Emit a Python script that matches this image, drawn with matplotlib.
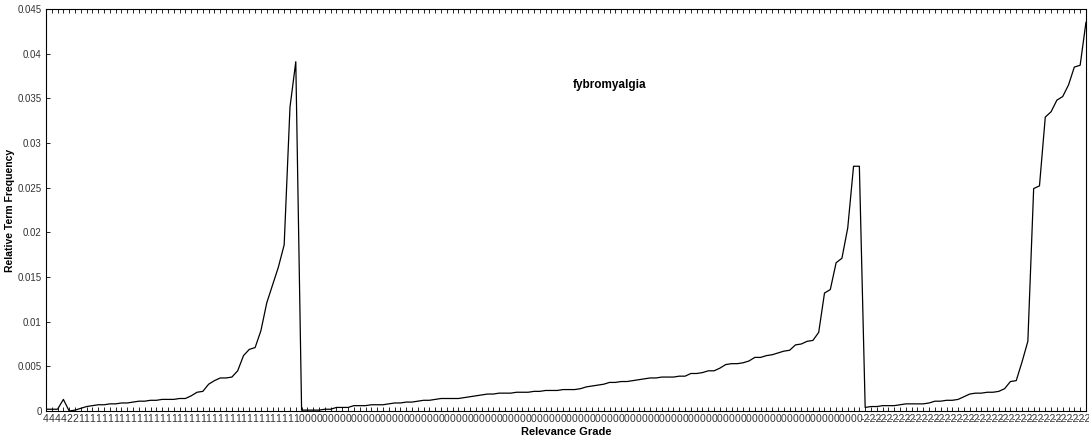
# Relative term frequency of "fybromyalgia" per document, ordered by relevance grade
import numpy as np
import matplotlib.pyplot as plt

plt.rcParams['font.family'] = ['Liberation Sans', 'DejaVu Sans']

# relevance grade of each document (x tick labels)
grade_4 = [4, 4, 4, 4]
grade_2 = [2, 2]
grade_1 = [1] * 38
grade_0 = [0] * 97
grade_m2 = [-2] * 39
grades = grade_4 + grade_2 + grade_1 + grade_0 + grade_m2

# relative term frequency
freq_4 = [0.0002, 0.0002, 0.0002, 0.0013]
freq_2 = [0.0000, 0.0001]
freq_1 = [0.0003, 0.0005, 0.0006, 0.0007, 0.0007, 0.0008, 0.0008,
          0.0009, 0.0009, 0.0010, 0.0011, 0.0011, 0.0012, 0.0012, 0.0013,
          0.0013, 0.0013, 0.0014, 0.0014, 0.0017, 0.0021, 0.0022, 0.0030,
          0.0034, 0.0037, 0.0037, 0.0038, 0.0045, 0.0062, 0.0069, 0.0071,
          0.0090, 0.0121, 0.0141, 0.0161, 0.0186, 0.0340, 0.0391]
freq_0 = [0.0001, 0.0001, 0.0001, 0.0001, 0.0002, 0.0002, 0.0004, 0.0004,
          0.0004, 0.0006, 0.0006, 0.0006, 0.0007, 0.0007, 0.0007, 0.0008,
          0.0009, 0.0009, 0.0010, 0.0010, 0.0011, 0.0012, 0.0012, 0.0013,
          0.0014, 0.0014, 0.0014, 0.0014, 0.0015, 0.0016, 0.0017, 0.0018,
          0.0019, 0.0019, 0.0020, 0.0020, 0.0020, 0.0021, 0.0021, 0.0021,
          0.0022, 0.0022, 0.0023, 0.0023, 0.0023, 0.0024, 0.0024, 0.0024,
          0.0025, 0.0027, 0.0028, 0.0029, 0.0030, 0.0032, 0.0032, 0.0033,
          0.0033, 0.0034, 0.0035, 0.0036, 0.0037, 0.0037, 0.0038, 0.0038,
          0.0038, 0.0039, 0.0039, 0.0042, 0.0042, 0.0043, 0.0045, 0.0045,
          0.0048, 0.0052, 0.0053, 0.0053, 0.0054, 0.0056, 0.0060, 0.0060,
          0.0062, 0.0063, 0.0065, 0.0067, 0.0068, 0.0074, 0.0075, 0.0078,
          0.0079, 0.0088, 0.0132, 0.0136, 0.0166, 0.0171, 0.0205, 0.0274,
          0.0274]
freq_m2 = [0.0004, 0.0005, 0.0005, 0.0006, 0.0006, 0.0006, 0.0007, 0.0008,
           0.0008, 0.0008, 0.0008, 0.0009, 0.0011, 0.0011, 0.0012, 0.0012,
           0.0013, 0.0016, 0.0019, 0.0020, 0.0020, 0.0021, 0.0021, 0.0022,
           0.0025, 0.0033, 0.0034, 0.0055, 0.0078, 0.0249, 0.0252, 0.0329,
           0.0335, 0.0348, 0.0352, 0.0365, 0.0385, 0.0387, 0.0435]
freq = freq_4 + freq_2 + freq_1 + freq_0 + freq_m2

x = np.arange(len(freq))
labels = [str(g) for g in grades]

fig = plt.figure(figsize=(10.89, 4.41), dpi=100)
ax = fig.add_axes([0.0422, 0.068, 0.9550, 0.9116])
ax.plot(x, freq, color='black', lw=0.9)

ax.set_xlim(0, len(freq) - 1)
ax.set_ylim(0, 0.045)
ax.set_xticks(x)
ax.set_xticklabels(labels, fontsize=7.5, color='#333333')
ax.set_yticks(np.arange(0, 0.0451, 0.005))
ax.set_yticklabels(['0', '0.005', '0.01', '0.015', '0.02', '0.025', '0.03',
                    '0.035', '0.04', '0.045'], fontsize=7, color='#333333')
ax.tick_params(axis='x', direction='in', length=3, width=0.6, pad=2, top=True)
ax.tick_params(axis='y', direction='in', length=3, width=0.6, pad=3)
for s in ax.spines.values():
    s.set_linewidth(0.8)

ax.set_xlabel('Relevance Grade', fontsize=8, fontweight='bold', labelpad=2)
ax.set_ylabel('Relative Term Frequency', fontsize=7.5, fontweight='bold', labelpad=2)
ax.text(0.542, 0.81, 'fybromyalgia', transform=ax.transAxes, ha='center',
        va='center', fontsize=8.5, fontweight='bold')

fig.savefig('out.png', dpi=100)
